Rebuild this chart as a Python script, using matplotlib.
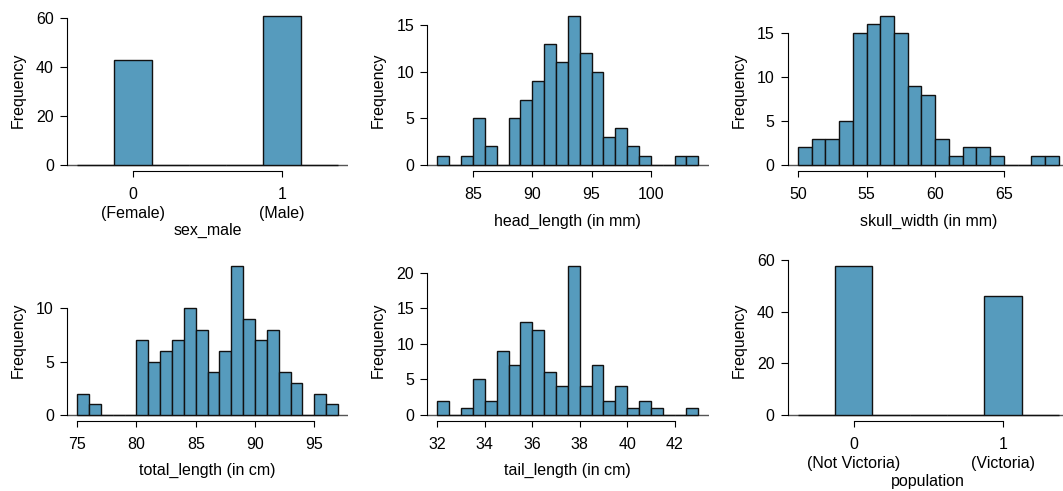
import numpy as np
import matplotlib
matplotlib.use('Agg')
import matplotlib.pyplot as plt

plt.rcParams['font.family'] = ['Liberation Sans', 'DejaVu Sans']
plt.rcParams['font.size'] = 11.5

BLUE = '#569BBD'

# sex_male (bins of width 0.25 around 0 and 1)
sex_edges = [-0.375, -0.125, 0.125, 0.375, 0.625, 0.875, 1.125, 1.375]
sex_counts = [0, 43, 0, 0, 0, 61, 0]

# head_length (in mm)
head_edges = list(range(82, 105))
head_counts = [1, 0, 1, 5, 2, 0, 5, 7, 9, 13, 11, 16, 12, 10, 3, 4, 2, 1, 0, 0, 1, 1]

# skull_width (in mm)
skull_edges = list(range(50, 70))
skull_counts = [2, 3, 3, 5, 15, 16, 17, 15, 9, 8, 3, 1, 2, 2, 1, 0, 0, 1, 1]

# total_length (in cm)
total_edges = list(range(75, 98))
total_counts = [2, 1, 0, 0, 0, 7, 5, 6, 7, 10, 8, 4, 6, 14, 9, 7, 8, 4, 3, 0, 2, 1]

# tail_length (in cm), bins of 0.5
tail_edges = [32 + 0.5 * i for i in range(23)]
tail_counts = [2, 0, 1, 5, 2, 9, 7, 13, 12, 6, 4, 21, 4, 7, 2, 4, 1, 2, 1, 0, 0, 1]

# population
pop_edges = [-0.375, -0.125, 0.125, 0.375, 0.625, 0.875, 1.125, 1.375]
pop_counts = [0, 58, 0, 0, 0, 46, 0]


def hist_panel(ax, edges, counts, xticks, yticks, xlabel, xticklabels=None, label_drop=50):
    edges = np.asarray(edges, dtype=float)
    lo, hi = edges[0], edges[-1]
    pad = 0.04 * (hi - lo)
    ax.set_xlim(lo - pad, hi + pad)
    top = max(counts)
    ax.set_ylim(-0.04 * top, 1.04 * top)

    ax.axhline(0, color='#555555', lw=1.0, zorder=1)
    ax.bar(edges[:-1], counts, width=np.diff(edges), align='edge',
           color=BLUE, edgecolor='#111111', linewidth=1.0, zorder=2)

    for s in ['top', 'right']:
        ax.spines[s].set_visible(False)
    ax.spines['left'].set_bounds(yticks[0], yticks[-1])
    ax.spines['bottom'].set_bounds(xticks[0], xticks[-1])
    for s in ['left', 'bottom']:
        ax.spines[s].set_linewidth(0.8)

    ax.set_xticks(xticks)
    if xticklabels is not None:
        ax.set_xticklabels(xticklabels, linespacing=1.3)
    ax.set_yticks(yticks)
    ax.tick_params(axis='x', direction='out', length=4.6, width=0.8, pad=7)
    ax.tick_params(axis='y', direction='out', length=4.8, width=0.8, pad=4.5)

    h_px = ax.get_position().height * ax.figure.get_figheight() * ax.figure.dpi
    w_px = ax.get_position().width * ax.figure.get_figwidth() * ax.figure.dpi
    ax.set_xlabel(xlabel)
    ax.xaxis.set_label_coords(0.5, -label_drop / h_px)
    ax.xaxis.label.set_va('center')
    ax.set_ylabel('Frequency')
    ax.yaxis.set_label_coords(-48.7 / w_px, 0.5)
    ax.yaxis.label.set_va('center')
    ax.yaxis.label.set_ha('center')


W, H = 1063, 491
fig = plt.figure(figsize=(W / 100, H / 100), dpi=100)

lefts = [66.7, 427.0, 787.5]
aw = 281.7
ah = 161.3
tops = [9.7, 259.6]


def make_ax(row, col):
    return fig.add_axes([lefts[col] / W, (H - tops[row] - ah) / H, aw / W, ah / H])


hist_panel(make_ax(0, 0), sex_edges, sex_counts, [0, 1], [0, 20, 40, 60],
           'sex_male', ['0\n(Female)', '1\n(Male)'], label_drop=59)
hist_panel(make_ax(0, 1), head_edges, head_counts, [85, 90, 95, 100], [0, 5, 10, 15],
           'head_length (in mm)')
hist_panel(make_ax(0, 2), skull_edges, skull_counts, [50, 55, 60, 65], [0, 5, 10, 15],
           'skull_width (in mm)')
hist_panel(make_ax(1, 0), total_edges, total_counts, [75, 80, 85, 90, 95], [0, 5, 10],
           'total_length (in cm)')
hist_panel(make_ax(1, 1), tail_edges, tail_counts, [32, 34, 36, 38, 40, 42], [0, 5, 10, 15, 20],
           'tail_length (in cm)')
hist_panel(make_ax(1, 2), pop_edges, pop_counts, [0, 1], [0, 20, 40, 60],
           'population', ['0\n(Not Victoria)', '1\n(Victoria)'], label_drop=61)

fig.savefig('out.png', dpi=100)
